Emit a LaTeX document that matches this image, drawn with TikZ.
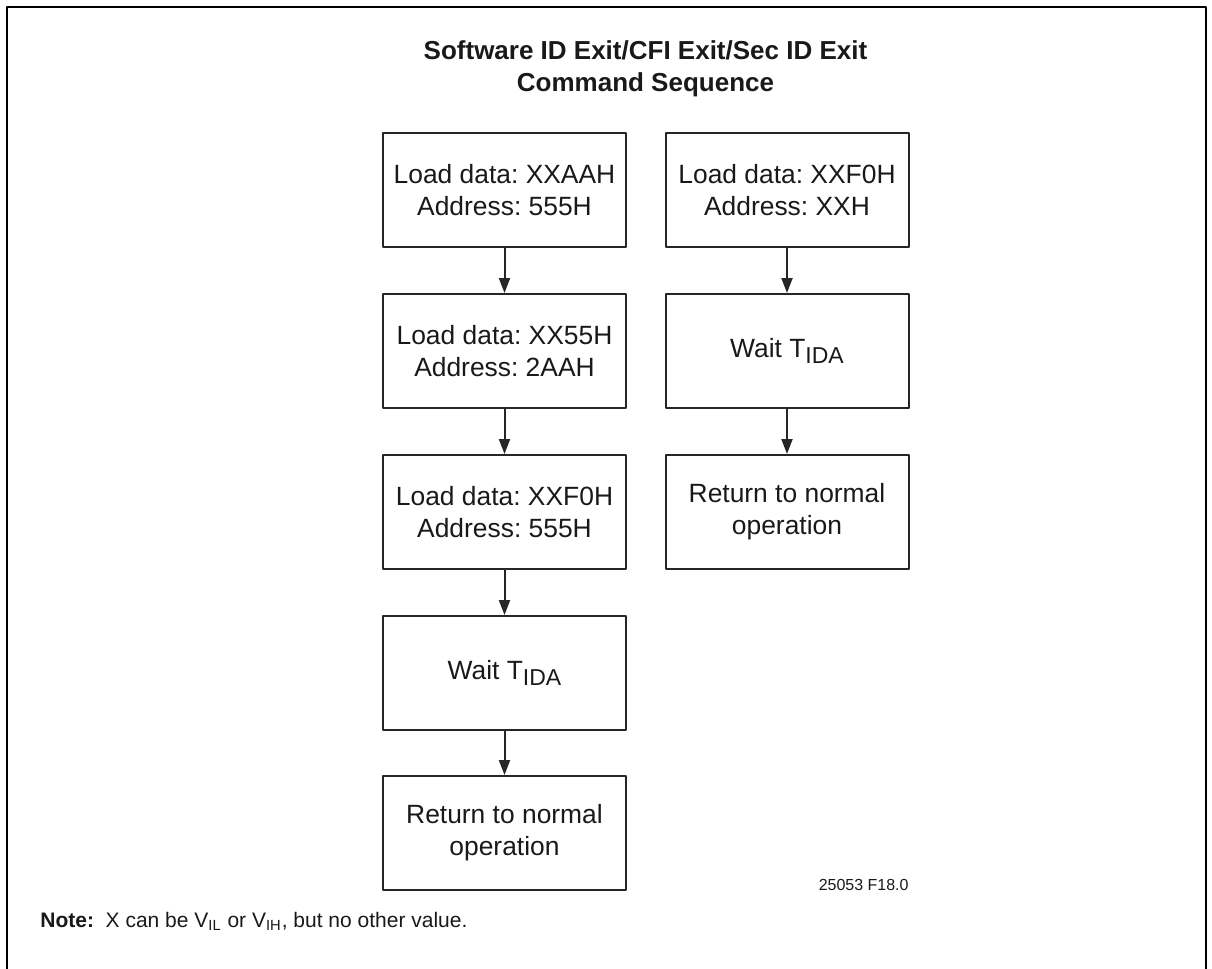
\documentclass[tikz,border=0pt]{standalone}
\usepackage{fontspec}
\setmainfont{Liberation Sans}
\usetikzlibrary{arrows.meta}
\frenchspacing
\newcommand{\lowsub}[1]{\raisebox{-0.4ex}{\fontsize{11.5}{11.5}\selectfont #1}}
\tikzset{
  stepbox/.style={draw=black!85,line width=1pt,minimum width=121.5pt,minimum height=57pt,
    inner sep=0pt,align=center,text=black!90,font=\fontsize{13.2}{16}\selectfont},
  flow/.style={draw=black!85,line width=1pt,-{Triangle[length=7.5pt,width=5.5pt]}}
}
\begin{document}
\begin{tikzpicture}[x=0.5pt,y=-0.5pt,line join=round]
\useasboundingbox (0,0) rectangle (1212,969);
\draw[line width=1pt] (7,969)--(7,7)--(1206,7)--(1206,969);
\node[align=center,font=\fontsize{13}{16}\selectfont\bfseries,text=black!90] (title) at (645.5,68.5) {Software ID Exit/CFI Exit/Sec ID Exit\\Command Sequence};
% left column
\node[stepbox] (aah) at (504.5,190) {Load data: XXAAH\\Address: 555H};
\node[stepbox] (h55) at (504.5,351) {Load data: XX55H\\Address: 2AAH};
\node[stepbox] (f0l) at (504.5,512) {Load data: XXF0H\\Address: 555H};
\node[stepbox] (waitl) at (504.5,673) {Wait T\lowsub{IDA}};
\node[stepbox] (retl) at (504.5,833) {Return to normal\\operation};
% right column
\node[stepbox] (f0r) at (787,190) {Load data: XXF0H\\Address: XXH};
\node[stepbox] (waitr) at (787,351) {Wait T\lowsub{IDA}};
\node[stepbox] (retr) at (787,512) {Return to normal\\operation};
\draw[flow] (aah)--(h55);
\draw[flow] (h55)--(f0l);
\draw[flow] (f0l)--(waitl);
\draw[flow] (waitl)--(retl);
\draw[flow] (f0r)--(waitr);
\draw[flow] (waitr)--(retr);
\node[anchor=base east,inner sep=0pt,font=\fontsize{8}{10}\selectfont,text=black!90] (figid) at (909,890) {25053 F18.0};
\node[anchor=base west,inner sep=0pt,font=\fontsize{10.5}{12}\selectfont,text=black!90] (note) at (40,927) {\textbf{Note:}\ \ X can be V\textsubscript{IL} or V\textsubscript{IH}, but no other value.};
\end{tikzpicture}
\end{document}
